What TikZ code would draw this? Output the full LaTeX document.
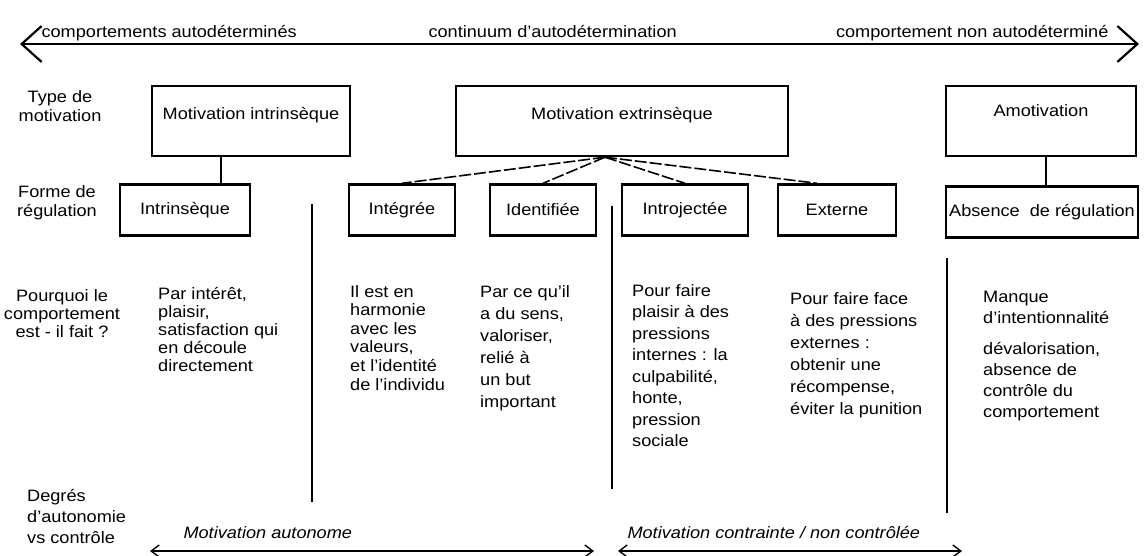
\documentclass[tikz,border=0pt]{standalone}
\usepackage{fontspec}
\setmainfont[FakeStretch=1.1]{Liberation Sans}
\usetikzlibrary{arrows.meta}

\begin{document}
\begin{tikzpicture}[x=1pt, y=-1pt,
    font=\fontsize{16.5}{19}\selectfont,
    typebox/.style ={draw, line width=2.4pt, minimum height=70pt, text height=12pt, text depth=14pt},
    formbox/.style ={draw, line width=2.4pt, minimum height=51pt},
    fanline/.style ={line width=1.6pt, dash pattern=on 12pt off 3pt},
    tie/.style ={line width=1.3pt},
    divider/.style ={line width=1.6pt},
    rowlabel/.style ={align=center, inner sep=0pt},
    why/.style ={align=left, anchor=north west, inner sep=0pt},
    continuum/.style ={line width=2.2pt, {Straight Barb[length=20pt,width=36pt]}-{Straight Barb[length=20pt,width=36pt]}},
    degree/.style ={line width=1.4pt, {Straight Barb[length=8pt,width=12pt]}-{Straight Barb[length=8pt,width=12pt]}}]

   \useasboundingbox (0,0) rectangle (1144,556);

   % continuum d'autodetermination
   \coordinate (cl) at (20,44);
   \coordinate (cr) at (1139,44);
   \draw[continuum] (cl) -- (cr);
   \node[anchor=base west] (autodet) at (38,38) {comportements autodéterminés};
   \node[anchor=base west] (contin) at (425,38) {continuum d'autodétermination};
   \node[anchor=base east] (nonautodet) at (1112,38) {comportement non autodéterminé};

   % type de motivation
   \node[rowlabel] (typelbl) at (60,106) {Type de\\motivation};
   \node[typebox, minimum width=198pt] (mi) at (251,121) {Motivation intrinsèque};
   \node[typebox, minimum width=332pt] (me) at (622,121) {Motivation extrinsèque};
   \node[typebox, minimum width=190pt, text depth=20pt] (am) at (1041,121) {Amotivation};

   % forme de regulation
   \node[rowlabel] (formlbl) at (57,203) {Forme de\\régulation};
   \node[formbox, minimum width=130pt] (intr) at (185,210) {Intrinsèque};
   \node[formbox, minimum width=106pt] (integ) at (402,210) {Intégrée};
   \node[formbox, minimum width=106pt] (ident) at (543,210) {Identifiée};
   \node[formbox, minimum width=126pt] (intro) at (685,210) {Introjectée};
   \node[formbox, minimum width=118pt] (ext) at (837,210) {Externe};
   \node[formbox, minimum width=192pt, inner sep=1pt] (abs) at (1042,212) {Absence\ \ de régulation};

   \draw[tie] ([xshift=-30pt]mi.south) -- ([xshift=-30pt]mi.south |- intr.north);
   \draw[tie] ([xshift=5pt]am.south) -- ([xshift=5pt]am.south |- abs.north);
   \coordinate (fan) at ([xshift=-17pt]me.south);
   \draw[fanline] (fan) -- (integ.north);
   \draw[fanline] (fan) -- (ident.north);
   \draw[fanline] (fan) -- (intro.north);
   \draw[fanline] (fan) -- ([xshift=-20pt]ext.north);

   % pourquoi
   \node[rowlabel, font=\fontsize{16.5}{18}\selectfont] (whylbl) at (62,314) {Pourquoi le\\comportement\\est - il fait ?};
   \node[why, font=\fontsize{16.5}{18}\selectfont] (intrwhy) at (158,287) {Par intérêt,\\plaisir,\\satisfaction qui\\en découle\\directement};
   \node[why, font=\fontsize{16.5}{18.6}\selectfont] (integwhy) at (350,285) {Il est en\\harmonie\\avec les\\valeurs,\\et l'identité\\de l'individu};
   \node[why, font=\fontsize{16.5}{22}\selectfont] (identwhy) at (480,285) {Par ce qu'il\\a du sens,\\valoriser,\\relié à\\un but\\important};
   \node[why, font=\fontsize{16.5}{21.5}\selectfont] (introwhy) at (632,284) {Pour faire\\plaisir à des\\pressions\\internes : la\\culpabilité,\\honte,\\pression\\sociale};
   \node[why, font=\fontsize{16.5}{22}\selectfont] (extwhy) at (790,292) {Pour faire face\\à des pressions\\externes :\\obtenir une\\récompense,\\éviter la punition};
   \node[why, font=\fontsize{16.5}{21}\selectfont] (amwhy) at (983,291) {Manque\\d'intentionnalité\\[10pt]dévalorisation,\\absence de\\contrôle du\\comportement};

   % separations
   \coordinate (s1t) at (312,204);
   \coordinate (s1b) at (312,502);
   \coordinate (s2t) at (612,206);
   \coordinate (s2b) at (612,489);
   \coordinate (s3t) at (947,258);
   \coordinate (s3b) at (947,513);
   \draw[divider] (s1t) -- (s1b);
   \draw[divider] (s2t) -- (s2b);
   \draw[divider] (s3t) -- (s3b);

   % degres d'autonomie
   \node[why, font=\fontsize{16.5}{21}\selectfont] (degreelbl) at (27,489) {Degrés\\d'autonomie\\vs contrôle};
   \coordinate (al) at (150,551);
   \coordinate (ar) at (594,551);
   \coordinate (bl) at (618,551);
   \coordinate (br) at (962,551);
   \draw[degree] (al) -- (ar);
   \draw[degree] (bl) -- (br);
   \node[anchor=base west, font=\fontsize{16.5}{19}\selectfont\itshape] (autonome) at (180,538) {Motivation autonome};
   \node[anchor=base west, font=\fontsize{16.5}{19}\selectfont\itshape] (controle) at (624,538) {Motivation contrainte / non contrôlée};

 \end{tikzpicture}
\end{document}
